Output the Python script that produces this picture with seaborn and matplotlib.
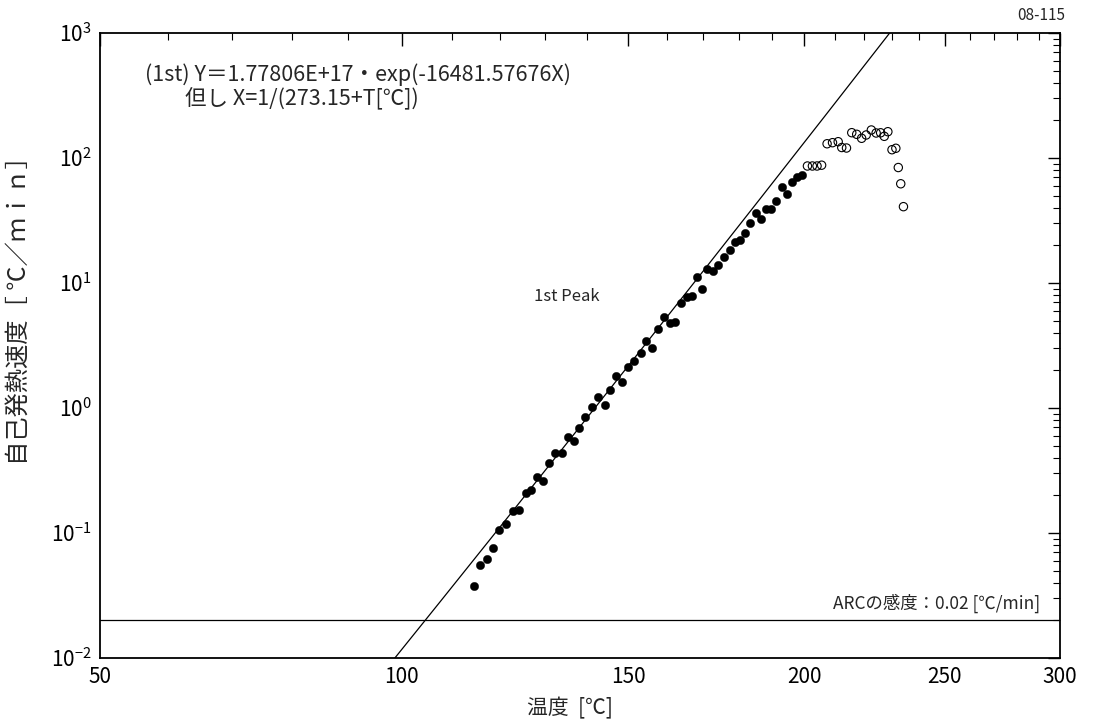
import numpy as np
import pandas as pd
import matplotlib
matplotlib.use("Agg")
import matplotlib.pyplot as plt
import matplotlib.ticker as mticker
import seaborn as sns

# --- ARC self-heating data (temperature in degC, rate in degC/min) ---
peak_temp = [114.5, 115.9, 117.4, 118.6, 119.9, 121.5, 122.9, 124.3, 125.7, 127.0,
             128.2, 129.6, 131.1, 132.4, 134.0, 135.3, 136.9, 138.1, 139.4, 141.1,
             142.6, 144.2, 145.5, 147.0, 148.5, 150.0, 151.5, 153.2, 154.6, 156.2,
             157.7, 159.3, 160.9, 162.3, 163.8, 165.4, 166.8, 168.2, 169.7, 171.1,
             172.7, 174.2, 175.8, 177.4, 179.0, 180.5, 182.0, 183.5, 185.1, 186.7,
             188.1, 189.6, 191.3, 193.0, 194.6, 196.3, 197.9, 199.4]
peak_rate = [0.0377, 0.0552, 0.0619, 0.0759, 0.106, 0.118, 0.151, 0.152, 0.210, 0.219,
             0.281, 0.261, 0.361, 0.434, 0.439, 0.583, 0.547, 0.692, 0.851, 1.02,
             1.23, 1.06, 1.39, 1.80, 1.60, 2.14, 2.38, 2.75, 3.45, 3.00,
             4.26, 5.38, 4.76, 4.90, 6.92, 7.68, 7.83, 11.2, 9.00, 13.0,
             12.5, 13.9, 16.2, 18.5, 21.4, 22.0, 25.3, 30.2, 36.5, 32.3,
             38.9, 38.9, 45.3, 58.1, 51.8, 63.9, 70.9, 73.4]

# points after the first peak (excluded from the fit)
tail_temp = [201.1, 202.7, 204.2, 205.7, 207.5, 209.3, 211.2, 212.4, 214.0, 215.8,
             217.5, 219.2, 220.8, 222.6, 224.3, 225.9, 227.2, 228.5, 230.0, 231.4,
             232.3, 233.2, 234.2]
tail_rate = [86.3, 86.3, 86.3, 87.6, 130.0, 132.6, 135.0, 121.3, 120.2, 159.4,
             154.7, 143.8, 152.8, 167.5, 158.5, 159.1, 149.1, 162.3, 116.5, 119.6,
             83.9, 62.2, 40.8]

# Arrhenius fit: Y = A * exp(-B * X), X = 1/(273.15 + T)
fit_A = 1.77806e17
fit_B = 16481.57676
arc_sensitivity = 0.02

x_major = [50, 100, 150, 200, 250, 300]

# reciprocal temperature axis offset used by the plotter
AXIS_OFFSET = 250.0

sns.set_theme(style="white")
plt.rcParams["font.family"] = ["Noto Sans CJK JP", "DejaVu Sans"]
plt.rcParams["mathtext.fontset"] = "custom"
plt.rcParams["mathtext.rm"] = "Noto Sans CJK JP"

fig = plt.figure(figsize=(11.09, 7.25), dpi=100)
ax = fig.add_axes([100 / 1109, 1 - 658 / 725, 960 / 1109, 625 / 725])

ax.set_xscale("function",
              functions=(lambda t: -1.0 / (np.asarray(t) + AXIS_OFFSET),
                         lambda u: -1.0 / np.asarray(u) - AXIS_OFFSET))
ax.set_yscale("log")
ax.set_xlim(50, 300)
ax.set_ylim(1e-2, 1e3)

peak_df = pd.DataFrame({"T": peak_temp, "rate": peak_rate})
tail_df = pd.DataFrame({"T": tail_temp, "rate": tail_rate})

sns.scatterplot(data=peak_df, x="T", y="rate", ax=ax, color="black",
                s=36, edgecolor="black", linewidth=0.3, zorder=3)
sns.scatterplot(data=tail_df, x="T", y="rate", ax=ax, facecolor="none",
                edgecolor="black", marker="o", s=36, linewidth=0.8, zorder=3)

t_fit = np.linspace(95, 235, 300)
fit_df = pd.DataFrame({"T": t_fit, "rate": fit_A * np.exp(-fit_B / (t_fit + 273.15))})
sns.lineplot(data=fit_df, x="T", y="rate", ax=ax, color="black", linewidth=0.9,
             zorder=2)
ax.axhline(arc_sensitivity, color="black", linewidth=0.9, zorder=2)

# ticks
ax.xaxis.set_major_locator(mticker.FixedLocator(x_major))
ax.xaxis.set_minor_locator(mticker.FixedLocator(np.arange(50, 301, 10)))
ax.xaxis.set_major_formatter(mticker.FixedFormatter([str(v) for v in x_major]))
ax.xaxis.set_minor_formatter(mticker.NullFormatter())
ax.yaxis.set_major_locator(mticker.LogLocator(base=10, numticks=10))
ax.yaxis.set_minor_locator(mticker.LogLocator(base=10, subs=np.arange(2, 10), numticks=10))
ax.yaxis.set_major_formatter(mticker.LogFormatterMathtext())
ax.tick_params(axis="both", which="both", direction="in", top=True, right=True,
               colors="black", labelsize=15, pad=6)
ax.tick_params(axis="both", which="major", length=9, width=1.0)
ax.tick_params(axis="both", which="minor", length=5, width=0.8)
for side in ax.spines.values():
    side.set_color("black")
    side.set_linewidth(1.3)
ax.grid(False)

ax.set_xlabel("温度  [℃]", fontsize=15)
ax.xaxis.set_label_coords(0.49, -0.062)
ax.set_ylabel("自己発熱速度［ ℃／ｍｉｎ］", fontsize=17.5)
ax.yaxis.set_label_coords(-0.071, 0.565)

ax.text(0.047, 0.933, "(1st) Y＝1.77806E+17・exp(-16481.57676X)",
        transform=ax.transAxes, fontsize=15.5, va="center", ha="left")
ax.text(0.0885, 0.894, "但し X=1/(273.15+T[℃])",
        transform=ax.transAxes, fontsize=15.5, va="center", ha="left")
ax.text(0.486, 0.578, "1st Peak", transform=ax.transAxes, fontsize=12,
        va="center", ha="center")
ax.text(0.979, 0.088, "ARCの感度：0.02 [℃/min]", transform=ax.transAxes,
        fontsize=12.5, va="center", ha="right")
fig.text(0.961, 0.979, "08-115", fontsize=11, ha="right", va="center")

fig.savefig("out.png", dpi=100)
